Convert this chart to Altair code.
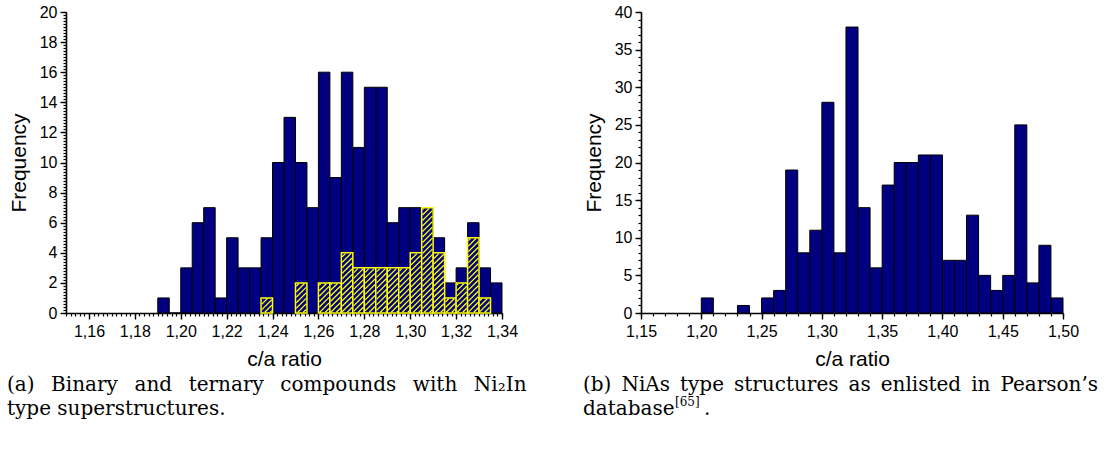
import math
import altair as alt
import pandas as pd

# ---------------- data: panel (a) ----------------
a_bin_start = [1.190, 1.195, 1.200, 1.205, 1.210, 1.215, 1.220, 1.225, 1.230, 1.235,
               1.240, 1.245, 1.250, 1.255, 1.260, 1.265, 1.270, 1.275, 1.280, 1.285,
               1.290, 1.295, 1.300, 1.305, 1.310, 1.315, 1.320, 1.325, 1.330, 1.335]
a_total = [1, 0, 3, 6, 7, 1, 5, 3, 3, 5,
           10, 13, 10, 7, 16, 9, 16, 11, 15, 15,
           6, 7, 7, 7, 5, 2, 3, 6, 3, 2]
a_hatched = [0, 0, 0, 0, 0, 0, 0, 0, 0, 1,
             0, 0, 2, 0, 2, 2, 4, 3, 3, 3,
             3, 3, 4, 7, 4, 1, 2, 5, 1, 0]
a_bin_width = 0.005
a_x_domain = [1.15, 1.34]
a_y_domain = [0, 20]
a_x_ticks = [1.16, 1.18, 1.20, 1.22, 1.24, 1.26, 1.28, 1.30, 1.32, 1.34]
a_y_ticks = [0, 2, 4, 6, 8, 10, 12, 14, 16, 18, 20]

# ---------------- data: panel (b) ----------------
b_bin_start = [1.20, 1.23, 1.25, 1.26, 1.27, 1.28, 1.29, 1.30, 1.31, 1.32,
               1.33, 1.34, 1.35, 1.36, 1.37, 1.38, 1.39, 1.40, 1.41, 1.42,
               1.43, 1.44, 1.45, 1.46, 1.47, 1.48, 1.49]
b_count = [2, 1, 2, 3, 19, 8, 11, 28, 8, 38,
           14, 6, 17, 20, 20, 21, 21, 7, 7, 13,
           5, 3, 5, 25, 4, 9, 2]
b_bin_width = 0.01
b_x_domain = [1.15, 1.50]
b_y_domain = [0, 40]
b_x_ticks = [1.15, 1.20, 1.25, 1.30, 1.35, 1.40, 1.45, 1.50]
b_y_ticks = [0, 5, 10, 15, 20, 25, 30, 35, 40]

x_title = "c/a ratio"
y_title = "Frequency"
cap_a_words = ["(a)", "Binary", "and", "ternary", "compounds", "with", "Ni\u2082In"]
cap_a_line2 = "type superstructures."
cap_b_words = ["(b)", "NiAs", "type", "structures", "as", "enlisted", "in", "Pearson\u2019s"]
cap_b_line2 = ["database", "[65]", "."]

# ---------------- layout / style ----------------
A_W, B_W, H = 436, 422, 301
NAVY = "#000080"
YELLOW = "#FFFF00"
LABEL_FONT = "Liberation Sans"
TITLE_FONT = "Liberation Sans"
CAP_FONT = "DejaVu Serif"
CAP_SIZE = 20
LABEL_EXPR = "replace(format(datum.value, '.2f'), '.', ',')"

a_x_minor = [round(1.15 + 0.002 * i, 3) for i in range(96)]
a_y_minor = [round(0.2 * i, 1) for i in range(101)]
b_x_minor = [round(1.15 + 0.01 * i, 2) for i in range(36)]
b_y_minor = list(range(41))


def hatch_segments(starts, heights, width, xdom, ydom, W, Hh, spacing=5.5):
    kx = W / (xdom[1] - xdom[0])
    ky = Hh / (ydom[1] - ydom[0])
    rows = []
    for s, h in zip(starts, heights):
        if h <= 0:
            continue
        u0 = (s - xdom[0]) * kx + 0.8
        u1 = (s + width - xdom[0]) * kx - 0.8
        v1 = h * ky - 0.8
        v0 = 0.8
        k0 = math.ceil((u0 - v1) / spacing)
        k1 = math.floor((u1 - v0) / spacing)
        for k in range(k0, k1 + 1):
            c = k * spacing  # line: v = u - c
            lo = max(u0, c + v0)
            hi = min(u1, v1 + c)
            if hi - lo > 0.4:
                rows.append(dict(x=xdom[0] + lo / kx, x2=xdom[0] + hi / kx,
                                 y=(lo - c) / ky, y2=(hi - c) / ky))
    return pd.DataFrame(rows)


def major_axis(values, title, is_x, fmt_comma):
    kw = dict(values=values, title=title, grid=False, domainColor="black", domainWidth=1.6,
              tickColor="black", tickWidth=1.4, tickSize=6, labelFont=LABEL_FONT,
              labelFontSize=16, labelColor="black", labelOverlap=False, labelFlush=False,
              titleFont=TITLE_FONT, titleFontSize=21,
              titleFontWeight="normal", titleColor="black")
    if fmt_comma:
        kw["labelExpr"] = LABEL_EXPR
    if is_x:
        kw.update(orient="bottom", labelPadding=4, titlePadding=9)
    else:
        kw.update(orient="left", labelPadding=3, titlePadding=10)
    return alt.Axis(**kw)


def minor_axis(values, is_x):
    return alt.Axis(values=values, title=None, labels=False, domain=False, grid=False,
                    tickColor="black", tickWidth=1.2, tickSize=3,
                    orient="bottom" if is_x else "left")


def caption_layer(text, x, y, size=CAP_SIZE):
    return alt.Chart(pd.DataFrame({"t": [text]})).mark_text(
        align="left", baseline="middle", font=CAP_FONT, fontSize=size, color="black"
    ).encode(x=alt.value(x), y=alt.value(y), text="t:N")


# ---------------- panel (a) ----------------
df_a = pd.DataFrame({"start": a_bin_start, "total": a_total, "hatched": a_hatched})
df_a["end"] = df_a["start"] + a_bin_width
sx_a = alt.Scale(domain=a_x_domain, nice=False, zero=False)
sy_a = alt.Scale(domain=a_y_domain, nice=False)

bars_a = alt.Chart(df_a).mark_bar(fill=NAVY, stroke="black", strokeWidth=1).encode(
    x=alt.X("start:Q", scale=sx_a, axis=major_axis(a_x_ticks, x_title, True, True)),
    x2="end:Q",
    y=alt.Y("total:Q", scale=sy_a, axis=major_axis(a_y_ticks, y_title, False, False)),
    y2=alt.datum(0),
)
hbars_a = alt.Chart(df_a[df_a["hatched"] > 0]).mark_bar(
    fill=NAVY, stroke=YELLOW, strokeWidth=1.5).encode(
    x=alt.X("start:Q", scale=sx_a, axis=None), x2="end:Q",
    y=alt.Y("hatched:Q", scale=sy_a, axis=None), y2=alt.datum(0))
df_hatch = hatch_segments(a_bin_start, a_hatched, a_bin_width, a_x_domain, a_y_domain, A_W, H)
hatch_a = alt.Chart(df_hatch).mark_rule(color=YELLOW, strokeWidth=1.3).encode(
    x=alt.X("x:Q", scale=sx_a, axis=None), x2="x2:Q",
    y=alt.Y("y:Q", scale=sy_a, axis=None), y2="y2:Q")
minor_a = alt.Chart(df_a).mark_point(opacity=0).encode(
    x=alt.X("start:Q", scale=sx_a, axis=minor_axis(a_x_minor, True)),
    y=alt.Y("total:Q", scale=sy_a, axis=minor_axis(a_y_minor, False)))

SEP_A = "\u2002\u2004"
SEP_B = "\u2002"
panel_a = alt.layer(
    bars_a, hbars_a, hatch_a, minor_a,
    caption_layer(SEP_A.join(cap_a_words), -59, H + 72),
    caption_layer(cap_a_line2, -59, H + 96),
).resolve_axis(x="independent", y="independent").properties(width=A_W, height=H)

# ---------------- panel (b) ----------------
df_b = pd.DataFrame({"start": b_bin_start, "count": b_count})
df_b["end"] = df_b["start"] + b_bin_width
sx_b = alt.Scale(domain=b_x_domain, nice=False, zero=False)
sy_b = alt.Scale(domain=b_y_domain, nice=False)

bars_b = alt.Chart(df_b).mark_bar(fill=NAVY, stroke="black", strokeWidth=1).encode(
    x=alt.X("start:Q", scale=sx_b, axis=major_axis(b_x_ticks, x_title, True, True)),
    x2="end:Q",
    y=alt.Y("count:Q", scale=sy_b, axis=major_axis(b_y_ticks, y_title, False, False)),
    y2=alt.datum(0),
)
minor_b = alt.Chart(df_b).mark_point(opacity=0).encode(
    x=alt.X("start:Q", scale=sx_b, axis=minor_axis(b_x_minor, True)),
    y=alt.Y("count:Q", scale=sy_b, axis=minor_axis(b_y_minor, False)))

panel_b = alt.layer(
    bars_b, minor_b,
    caption_layer(SEP_B.join(cap_b_words), -58, H + 72),
    caption_layer(cap_b_line2[0], -58, H + 96),
    caption_layer(cap_b_line2[1], 34, H + 89, 12),
    caption_layer(cap_b_line2[2], 63, H + 96),
).resolve_axis(x="independent", y="independent").properties(width=B_W, height=H)

chart = alt.hconcat(panel_a, panel_b, spacing=56).properties(
    padding={"left": 7, "top": 4, "right": 0, "bottom": 0}
).configure_view(strokeWidth=0)

chart.save("out.html", embed_options={"renderer": "svg", "actions": False})
